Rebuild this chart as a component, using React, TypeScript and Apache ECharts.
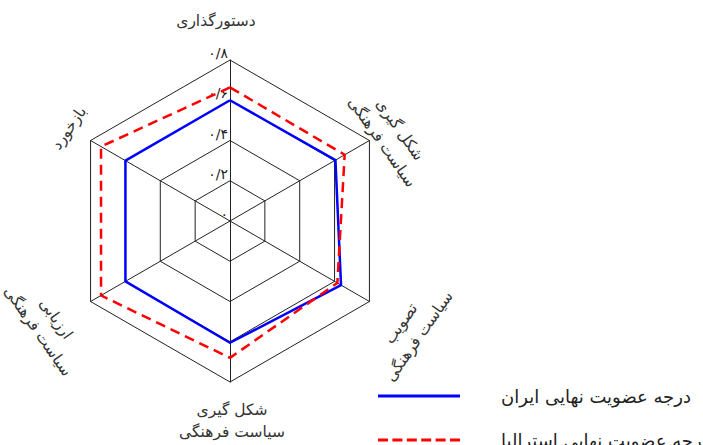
import React, { useEffect, useRef } from "react";
import * as echarts from "echarts";

const indicatorNames = [
  "دستورگذاری",
  "بازخورد",
  "ارزیابی\nسیاست فرهنگی",
  "شکل گیری\nسیاست فرهنگی",
  "تصویب\nسیاست فرهنگی",
  "شکل گیری\nسیاست فرهنگی",
];
const axisMax = 0.8;
const iranValues = [0.6, 0.6, 0.6, 0.605, 0.637, 0.605];
const australiaValues = [0.664, 0.74, 0.74, 0.68, 0.616, 0.658];
const seriesNames = ["درجه عضویت نهایی ایران", "درجه عضویت نهایی استرالیا"];

const FONT = "DejaVu Sans";
const persianDigits = "۰۱۲۳۴۵۶۷۸۹";
const toPersian = (v: number) => {
  if (Math.abs(v) < 1e-9) return "۰";
  const s = v.toFixed(1);
  const [a, b] = s.split(".");
  const conv = (t: string) => t.split("").map((c) => persianDigits[+c]).join("");
  return conv(a) + "/" + conv(b);
};

const dashPath = (() => {
  let d = "";
  for (let i = 0; i < 6; i++) {
    const x = i * 14.4;
    d += `M${x},0H${x + 10}V3H${x}Z`;
  }
  return "path://" + d;
})();
const solidPath = "path://M0,0H82V3H0Z";

export default function App() {
  const ref = useRef<HTMLDivElement>(null);
  useEffect(() => {
    if (!ref.current) return;
    const chart = echarts.init(ref.current, null, { renderer: "svg" });
    const cx = 230;
    const cy = 221;
    const nameStyle = (text: string) => ({
      text,
      fontSize: 15.5,
      fontFamily: FONT,
      fill: "#333",
      align: "center",
      verticalAlign: "middle",
      lineHeight: 22,
    });
    const deg = Math.PI / 180;
    const labelPos = [
      { x: 216, y: 21, r: 0 },
      { x: 69, y: 128, r: 55 },
      { x: 47, y: 325, r: -55 },
      { x: 232, y: 421, r: 0 },
      { x: 410, y: 330, r: 55 },
      { x: 391, y: 136, r: -55 },
    ];
    const legendBase = {
      orient: "vertical",
      left: 373,
      itemWidth: 82,
      itemHeight: 3,
      textStyle: {
        fontSize: 18,
        fontFamily: FONT,
        color: "#222",
        padding: [0, 0, 0, 36],
      },
    };
    chart.setOption({
      animation: false,
      backgroundColor: "#fff",
      color: ["#0000ff", "#ff0000"],
      legend: [
        { ...legendBase, top: 382, data: [{ name: seriesNames[0], icon: solidPath }] },
        { ...legendBase, top: 426, data: [{ name: seriesNames[1], icon: dashPath }] },
      ],
      radar: {
        center: [cx, cy],
        radius: 161,
        startAngle: 90,
        splitNumber: 4,
        shape: "polygon",
        indicator: indicatorNames.map((n, i) => ({
          name: n,
          min: 0,
          max: axisMax,
          ...(i === 0
            ? {
                axisLabel: {
                  show: true,
                  showMinLabel: true,
                  fontSize: 14,
                  fontFamily: FONT,
                  color: "#222",
                  margin: 2,
                  verticalAlign: "bottom",
                  formatter: (v: number) => toPersian(v),
                },
              }
            : {}),
        })),
        axisName: { show: false },
        splitArea: { show: false },
        splitLine: { lineStyle: { color: "#222", width: 1 } },
        axisLine: { lineStyle: { color: "#222", width: 1 } },
        axisTick: { show: false },
        axisLabel: { show: false },
      },
      series: [
        {
          type: "radar",
          name: seriesNames[0],
          symbol: "none",
          lineStyle: { color: "#0000ff", width: 2.5 },
          itemStyle: { color: "#0000ff" },
          data: [{ value: iranValues, name: seriesNames[0] }],
          z: 3,
        },
        {
          type: "radar",
          name: seriesNames[1],
          symbol: "none",
          lineStyle: { color: "#ff0000", width: 2.5, type: [10, 6] },
          itemStyle: { color: "#ff0000" },
          data: [{ value: australiaValues, name: seriesNames[1] }],
          z: 4,
        },
      ],
      graphic: indicatorNames.map((n, i) => ({
        type: "text",
        x: labelPos[i].x,
        y: labelPos[i].y,
        rotation: labelPos[i].r * deg,
        style: nameStyle(n),
      })),
    });
    return () => chart.dispose();
  }, []);
  return (
    <div
      ref={ref}
      style={{ position: "fixed", left: 0, top: 0, width: 703, height: 445 }}
    />
  );
}
